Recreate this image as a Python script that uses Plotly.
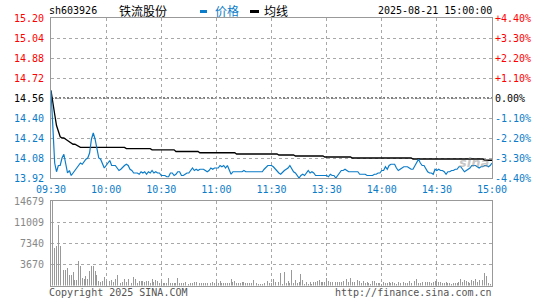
import plotly.graph_objects as go

# ---------------- data ----------------
STOCK_CODE = "sh603926"
STOCK_NAME = "铁流股份"
DATE_TEXT = "2025-08-21 15:00:00"
PREV_CLOSE = 14.56

TIME_TICK_POS = [0, 30, 60, 90, 120, 150, 180, 210, 240]
TIME_TICK_LABELS = ["09:30", "10:00", "10:30", "11:00", "11:30", "13:30", "14:00", "14:30", "15:00"]

PRICE_TICKS = [15.20, 15.04, 14.88, 14.72, 14.56, 14.40, 14.24, 14.08, 13.92]
VOL_TICKS = [3670, 7340, 11009, 14679]

PRICE = [
    14.62, 14.28, 14.04, 13.97, 14.02, 14.02, 14.08, 14.11, 14.02, 13.96,
    13.98, 13.94, 13.96, 13.98, 13.99, 14.02, 14.04, 14.03, 14.05, 14.07,
    14.08, 14.12, 14.23, 14.28, 14.23, 14.15, 14.08, 14.07, 14.03, 14.00,
    14.02, 14.04, 14.06, 14.02, 14.02, 14.02, 14.00, 13.98, 13.99, 14.01,
    14.02, 14.03, 14.02, 13.99, 13.98, 13.96, 13.96, 13.96, 13.95, 13.97,
    13.96, 13.97, 13.95, 13.97, 13.96, 13.98, 13.96, 13.97, 13.96, 13.96,
    13.94, 13.94, 13.94, 13.93, 13.93, 13.96, 13.96, 13.94, 13.95, 13.97,
    13.97, 13.94, 13.94, 13.95, 13.96, 13.96, 13.98, 14.00, 13.98, 13.99,
    13.98, 13.99, 13.99, 13.99, 13.98, 13.97, 13.98, 14.00, 13.99, 14.00,
    14.00, 14.00, 14.02, 14.01, 14.02, 14.00, 14.02, 13.99, 13.95, 13.97,
    13.97, 13.97, 13.97, 13.97, 13.97, 13.98, 13.97, 13.97, 13.97, 13.97,
    13.97, 13.97, 13.97, 13.97, 13.97, 13.97, 13.99, 14.01, 14.02, 14.02,
    14.02, 14.01, 13.99, 13.98, 13.96, 13.95, 13.97, 13.98, 13.99, 14.00,
    14.02, 13.99, 13.97, 13.96, 13.94, 13.92, 13.94, 13.95, 13.94, 13.96,
    13.98, 13.96, 13.97, 13.96, 13.94, 13.94, 13.94, 13.94, 13.94, 13.94,
    13.94, 13.93, 13.95, 13.94, 13.94, 13.92, 13.94, 13.96, 13.98, 13.98,
    13.99, 13.98, 13.97, 13.97, 13.97, 13.97, 13.97, 13.97, 13.95, 13.95,
    13.95, 13.95, 13.94, 13.94, 13.94, 13.94, 13.95, 13.95, 13.96, 13.96,
    13.98, 13.98, 14.01, 13.99, 14.02, 14.03, 14.03, 14.03, 14.00, 13.98,
    13.99, 14.00, 14.01, 14.01, 14.01, 14.00, 13.99, 13.99, 14.02, 14.05,
    14.07, 14.04, 14.02, 14.02, 13.99, 13.97, 13.96, 13.96, 13.95, 13.99,
    13.98, 13.99, 13.98, 13.98, 13.97, 13.95, 13.97, 13.97, 13.98, 13.98,
    13.99, 13.99, 14.01, 14.01, 13.99, 13.97, 13.98, 13.99, 14.00, 14.02,
    14.02, 14.02, 14.01, 14.00, 14.01, 14.01, 14.02, 14.02, 14.01, 14.02,
    14.04,
]

AVG = (
    [14.62, 14.54, 14.43, 14.34, 14.29, 14.25, 14.24, 14.24, 14.23, 14.22,
     14.21, 14.20, 14.19, 14.19, 14.18, 14.17]
    + [14.165] * 25      # 16-40
    + [14.155] * 14      # 41-54
    + [14.145] * 13      # 55-67
    + [14.132] * 13      # 68-80
    + [14.122] * 20      # 81-100
    + [14.112] * 23      # 101-123
    + [14.104] * 9       # 124-132
    + [14.096] * 16      # 133-148
    + [14.088] * 15      # 149-163
    + [14.080] * 33      # 164-196
    + [14.072] * 39      # 197-235
    + [14.062] * 5       # 236-240
)

VOLUME = [
    3900, 14679, 6580, 6870, 10540, 6870, 2800, 2680, 2680, 3030,
    1750, 1860, 2330, 930, 930, 4250, 3380, 1280, 1170, 1630,
    1170, 2500, 3380, 3380, 2500, 1750, 760, 580, 760, 1460,
    760, 580, 760, 930, 580, 1050, 1810, 580, 350, 580,
    1170, 580, 1050, 1170, 350, 1460, 1050, 350, 700, 760,
    760, 580, 760, 760, 350, 1170, 580, 870, 760, 350,
    760, 470, 470, 350, 1280, 350, 350, 350, 350, 1280,
    350, 350, 350, 580, 350, 230, 350, 350, 580, 580,
    350, 350, 350, 350, 350, 350, 930, 350, 580, 350,
    580, 350, 760, 350, 350, 350, 350, 350, 1050, 580,
    700, 350, 350, 350, 580, 580, 350, 350, 350, 350,
    930, 760, 350, 230, 230, 230, 350, 580, 760, 350,
    350, 1050, 580, 580, 580, 2100, 230, 2330, 350, 700,
    470, 2680, 350, 930, 350, 580, 1920, 930, 230, 580,
    230, 580, 230, 580, 580, 760, 930, 580, 580, 580,
    1280, 760, 580, 580, 930, 580, 580, 580, 580, 760,
    930, 1170, 580, 1280, 580, 580, 580, 930, 700, 350,
    700, 350, 580, 350, 230, 760, 760, 350, 350, 350,
    230, 580, 350, 350, 580, 350, 580, 350, 230, 580,
    350, 350, 580, 350, 350, 700, 350, 1460, 760, 1050,
    350, 350, 580, 580, 580, 580, 580, 350, 580, 700,
    700, 580, 580, 350, 350, 580, 350, 350, 230, 350,
    350, 350, 580, 1050, 580, 930, 700, 580, 470, 930,
    700, 1170, 580, 930, 1170, 930, 2100, 1650, 350, 230,
    350,
]

# ---------------- style ----------------
W, H = 545, 300
PX_L, PX_R = 51, 492
PX_PT, PX_PB = 18, 178
PX_VT, PX_VB = 201, 285.5
BLUE = "#0b7cc9"
RED = "#ff0000"
GRID = "#a8a8a8"
FRAME = "#999999"
MONO = "DejaVu Sans Mono"
CJK = "Noto Sans CJK SC"


def px_x(x):
    return x / W


def px_y(y):
    return 1 - y / H


minutes = list(range(len(PRICE)))


def price_color(p):
    if abs(p - PREV_CLOSE) < 1e-9:
        return "#000000"
    return RED if p > PREV_CLOSE else BLUE


left_text = [f'<span style="color:{price_color(p)}">{p:.2f}</span>' for p in PRICE_TICKS]


def pct_label(p):
    v = (p / PREV_CLOSE - 1) * 100
    if abs(v) < 1e-9:
        return "0.00%"
    return f"{v:+.2f}%"


right_text = [f'<span style="color:{price_color(p)}">{pct_label(p)}</span>' for p in PRICE_TICKS]

fig = go.Figure()

fig.add_trace(go.Scatter(x=minutes, y=AVG, mode="lines", line=dict(color="#000000", width=1.3),
                         xaxis="x", yaxis="y", showlegend=False, hoverinfo="skip"))
fig.add_trace(go.Scatter(x=minutes, y=PRICE, mode="lines", line=dict(color=BLUE, width=1.2),
                         xaxis="x", yaxis="y", showlegend=False))
# invisible trace to carry the right percentage axis
fig.add_trace(go.Scatter(x=minutes, y=PRICE, mode="lines", line=dict(color="rgba(0,0,0,0)", width=0),
                         xaxis="x", yaxis="y3", showlegend=False, hoverinfo="skip"))
fig.add_trace(go.Bar(x=minutes, y=VOLUME, marker=dict(color="#999999", line=dict(width=0)),
                     width=0.5, xaxis="x2", yaxis="y2", showlegend=False))

dom_x = [px_x(PX_L), px_x(PX_R)]
common_x = dict(range=[0, 240], tickvals=TIME_TICK_POS, showgrid=True, gridcolor=GRID, griddash="dot",
                gridwidth=1, showline=True, linecolor=FRAME, linewidth=1, mirror=True, zeroline=False,
                ticks="", domain=dom_x, automargin=False)

fig.update_layout(
    template="none",
    width=W, height=H, margin=dict(l=0, r=0, t=0, b=0, pad=0, autoexpand=False),
    paper_bgcolor="white", plot_bgcolor="white",
    bargap=0,
    xaxis=dict(**common_x, ticktext=TIME_TICK_LABELS, tickfont=dict(family=MONO, size=10, color=BLUE),
               anchor="y", ticklabelstandoff=2),
    yaxis=dict(range=[PRICE_TICKS[-1], PRICE_TICKS[0]], tickvals=PRICE_TICKS, ticktext=left_text,
               domain=[px_y(PX_PB), px_y(PX_PT)], showgrid=True, gridcolor=GRID, griddash="dot",
               showline=True, linecolor=FRAME, linewidth=1, mirror=True, zeroline=False, ticks="",
               tickfont=dict(family=MONO, size=10), ticklabelstandoff=4, anchor="x", automargin=False),
    yaxis3=dict(range=[PRICE_TICKS[-1], PRICE_TICKS[0]], tickvals=PRICE_TICKS, ticktext=right_text,
                overlaying="y", side="right", showgrid=False, zeroline=False, ticks="",
                tickfont=dict(family=MONO, size=10), ticklabelstandoff=2, anchor="x", automargin=False),
    xaxis2=dict(**common_x, showticklabels=False, anchor="y2", matches="x"),
    yaxis2=dict(range=[0, VOL_TICKS[-1]], tickvals=VOL_TICKS, ticktext=[str(v) for v in VOL_TICKS],
                domain=[px_y(PX_VB), px_y(PX_VT)], showgrid=True, gridcolor=GRID, griddash="dot",
                showline=True, linecolor=FRAME, linewidth=1, mirror=True, zeroline=False, ticks="",
                tickfont=dict(family=MONO, size=10, color="#888888"), ticklabelstandoff=4, anchor="x2",
                automargin=False),
)

# previous close dashed line
fig.add_shape(type="line", xref="x domain", yref="y", x0=0, x1=1, y0=PREV_CLOSE, y1=PREV_CLOSE,
              line=dict(color="#000000", width=1, dash="2px,2px"), layer="below")

# header texts
def ann(text, x, y, xanchor="left", font=None):
    fig.add_annotation(text=text, x=px_x(x), y=px_y(y), xref="paper", yref="paper",
                       xanchor=xanchor, yanchor="middle", showarrow=False, borderpad=0,
                       font=font or dict(family=MONO, size=10, color="#000000"))

ann(STOCK_CODE, 48, 11)
ann(STOCK_NAME, 118, 11, font=dict(family=CJK, size=12, color="#000000"))
ann("价格", 214, 11, font=dict(family=CJK, size=12, color=BLUE))
ann("均线", 263, 11, font=dict(family=CJK, size=12, color="#000000"))
ann(DATE_TEXT, 493, 11, xanchor="right")
ann("Copyright 2025 SINA.COM", 48, 292, font=dict(family=MONO, size=10, color="#555555"))
ann("http://finance.sina.com.cn", 493, 292, xanchor="right", font=dict(family=MONO, size=10, color="#555555"))
# watermark
ann("<b><i>sina</i></b>", 474, 162, xanchor="center",
    font=dict(family="DejaVu Sans", size=13, color="rgba(150,150,150,0.55)"))

# legend swatches
fig.add_shape(type="line", xref="paper", yref="paper", x0=px_x(200), x1=px_x(207), y0=px_y(11.5), y1=px_y(11.5),
              line=dict(color=BLUE, width=3))
fig.add_shape(type="line", xref="paper", yref="paper", x0=px_x(250), x1=px_x(259), y0=px_y(11.5), y1=px_y(11.5),
              line=dict(color="#000000", width=3))

fig.write_html("out.html", config={"displayModeBar": False, "staticPlot": True},
               post_script="document.body.style.margin='0';document.body.style.padding='0';")
